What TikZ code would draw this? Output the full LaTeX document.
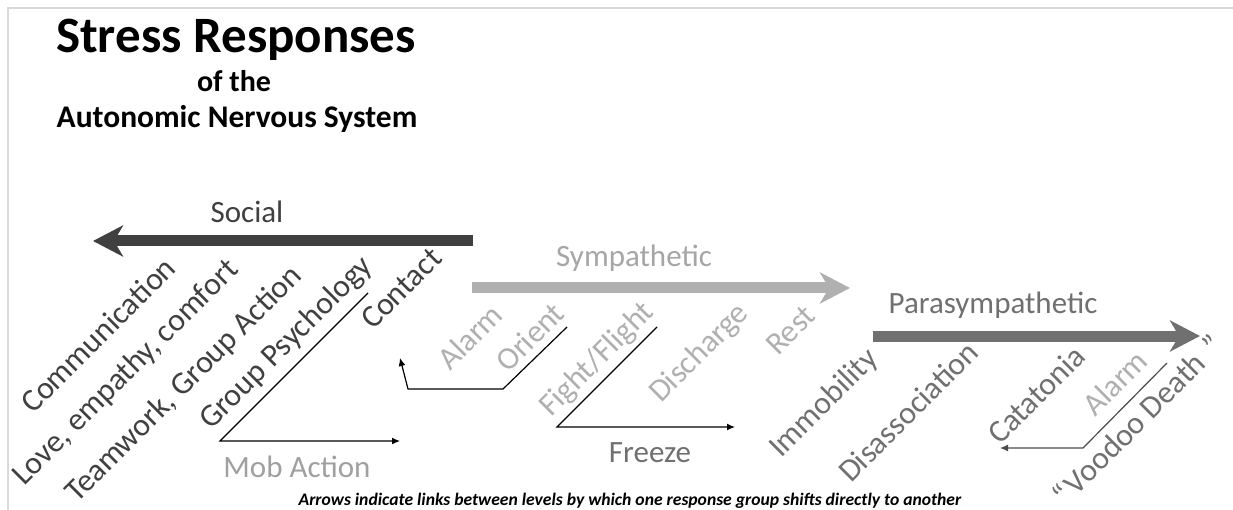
\documentclass[tikz,border=0pt]{standalone}
\usepackage{fontspec}
\setmainfont{Carlito}
\usetikzlibrary{arrows.meta}
\definecolor{socialc}{HTML}{404040}
\definecolor{sympc}{HTML}{B0B0B0}
\definecolor{symptext}{HTML}{A6A6A6}
\definecolor{parac}{HTML}{707070}
\definecolor{mobc}{HTML}{A0A0A0}
\definecolor{framec}{HTML}{D9D9D9}
\tikzset{
  lbl/.style={inner sep=0pt, font=\fontsize{31pt}{37pt}\selectfont},
  rot/.style={inner sep=0pt, font=\fontsize{31.8pt}{37pt}\selectfont, rotate=45, anchor=base west},
  hlbl/.style={lbl, anchor=base},
  bigarrow/.style={line width=11pt, -{Stealth[length=30pt,width=31pt,inset=9pt]}},
  link/.style={line width=1.2pt, -{Latex[length=8pt,width=7pt]}}
}
\begin{document}
\begin{tikzpicture}[x=1pt,y=-1pt]
\useasboundingbox (0,0) rectangle (1233,510);
\fill[white] (0,0) rectangle (1233,510);
\draw[framec, line width=2pt] (8,510) -- (8,8) -- (1233,8);

% title
\node[inner sep=0pt, anchor=base, font=\fontsize{51pt}{60pt}\selectfont\bfseries] (t1) at (236,53) {Stress Responses};
\node[inner sep=0pt, anchor=base, font=\fontsize{30pt}{36pt}\selectfont\bfseries] (t2) at (234,92) {of the};
\node[inner sep=0pt, anchor=base, font=\fontsize{31.5pt}{36pt}\selectfont\bfseries] (t3) at (237,128) {Autonomic Nervous System};

% big arrows
\coordinate (soS) at (473,241); \coordinate (soE) at (93,241);
\draw[bigarrow, socialc] (soS) -- (soE);
\node[hlbl, socialc] (social) at (247,223) {Social};

\coordinate (syS) at (472,288); \coordinate (syE) at (850,288);
\draw[bigarrow, sympc] (syS) -- (syE);
\node[hlbl, symptext] (symp) at (634,267) {Sympathetic};

\coordinate (paS) at (873,336); \coordinate (paE) at (1200,336);
\draw[bigarrow, parac] (paS) -- (paE);
\node[hlbl, parac] (para) at (993,313) {Parasympathetic};

% social labels
\node[rot, socialc] (comm) at (33,415) {Communication};
\node[rot, socialc] (love) at (24,487) {Love, empathy, comfort};
\node[rot, socialc] (team) at (77,504) {Teamwork, Group Action};
\node[rot, socialc] (grp) at (211,431) {Group Psychology};
\node[rot, socialc] (cont) at (373,331) {Contact};

% sympathetic labels
\node[rot, sympc] (alarm1) at (450,372) {Alarm};
\node[rot, sympc] (orient) at (508,374) {Orient};
\node[rot, sympc] (fight) at (551,418) {Fight/Flight};
\node[rot, sympc] (disch) at (661,404) {Discharge};
\node[rot, sympc] (rest) at (778,357) {Rest};

% parasympathetic labels
\node[rot, parac] (immo) at (781,459) {Immobility};
\node[rot, parac] (disas) at (851,484) {Disassociation};
\node[rot, parac] (cata) at (1000,446) {Catatonia};
\node[rot, sympc] (alarm2) at (1095,418) {Alarm};
\node[rot, parac] (voodoo) at (1065,508) {“\hspace{3pt}Voodoo Death\hspace{11pt}”};

% connectors
\coordinate (g1) at (368,293); \coordinate (g2) at (220,441); \coordinate (g3) at (400,441);
\draw[link] (g1) -- (g2) -- (g3);
\node[hlbl, mobc] (mob) at (297,477) {Mob Action};

\coordinate (o1) at (567,327); \coordinate (o2) at (503,389); \coordinate (o3) at (408,389); \coordinate (o4) at (400,358);
\draw[link] (o1) -- (o2) -- (o3) -- (o4);

\coordinate (f1) at (657,327); \coordinate (f2) at (557,427); \coordinate (f3) at (735,427);
\draw[link] (f1) -- (f2) -- (f3);
\node[hlbl, parac] (freeze) at (650,462) {Freeze};

\coordinate (v1) at (1167,363); \coordinate (v2) at (1083,448); \coordinate (v3) at (1000,448);
\draw[link, black!70] (v1) -- (v2) -- (v3);

% footer
\node[inner sep=0pt, anchor=base, font=\fontsize{17.6pt}{20pt}\selectfont\bfseries\itshape] (foot) at (630,505) {Arrows indicate links between levels by which one response group shifts directly to another};
\end{tikzpicture}
\end{document}
